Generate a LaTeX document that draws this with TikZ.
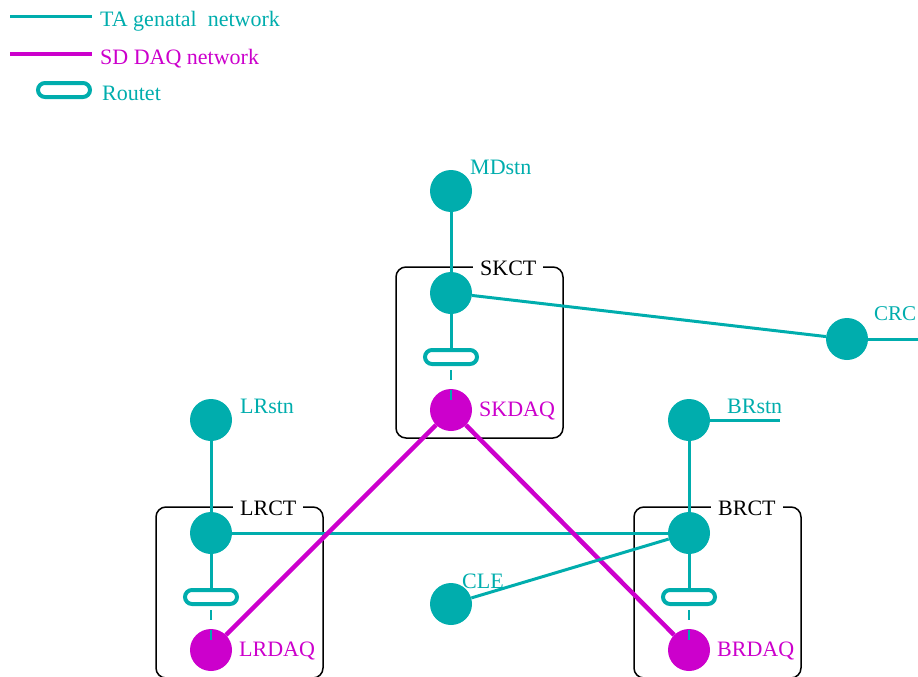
\documentclass[tikz,border=0pt]{standalone}
\usepackage{fontspec}
\setmainfont{Liberation Serif}
\usetikzlibrary{positioning}
\definecolor{tanet}{RGB}{0,173,173}
\definecolor{sdnet}{RGB}{204,0,204}

\tikzset{
  stn/.style={circle,fill=tanet,minimum size=42pt,inner sep=0pt},
  daq/.style={circle,fill=sdnet,minimum size=42pt,inner sep=0pt},
  router/.style={draw=tanet,line width=4pt,rounded corners=7pt,minimum width=52pt,minimum height=14pt,inner sep=0pt},
  lbl/.style={anchor=base west,inner sep=0pt,font=\fontsize{22}{26}\selectfont},
  talink/.style={draw=tanet,line width=3pt},
  sdlink/.style={draw=sdnet,line width=4.5pt},
  ctbox/.style={draw=black,line width=1.5pt,rounded corners=10pt},
}

\begin{document}
\begin{tikzpicture}[x=1pt,y=-1pt]
\useasboundingbox (0,0) rectangle (918,677);
\clip (0,0) rectangle (918,677);

% key
\coordinate (ta0) at (10,17);
\coordinate (ta1) at (92,17);
\coordinate (sd0) at (10,54);
\coordinate (sd1) at (92,54);
\draw[talink] (ta0) -- (ta1);
\draw[sdlink] (sd0) -- (sd1);
\node[lbl,text=tanet] (keyta) at (100,27) {TA genatal\ \ network};
\node[lbl,text=sdnet] (keysd) at (100,64) {SD DAQ network};
\node[router] (keyr) at (64,90) {};
\node[lbl,text=tanet] (keyrt) at (102,100) {Routet};

% comm towers: box, tower node, router, DAQ
\foreach \nm/\x/\y in {SK/451/293, LR/211/533, BR/689/533} {
  \draw[ctbox] ({\x-55},{\y-26}) rectangle ({\x+112},{\y+145});
  \node[lbl,fill=white,inner xsep=7pt] (\nm lbl) at ({\x+22},{\y-18}) {\nm CT};
  \node[stn] (\nm ct) at (\x,\y) {};
  \node[router] (\nm r) at (\x,{\y+64}) {};
  \node[daq] (\nm daq) at (\x,{\y+117}) {};
  \node[lbl,text=sdnet] (\nm dlbl) at ({\x+28},{\y+123}) {\nm DAQ};
}

% stations
\node[stn] (MDs) at (451,191) {};
\node[lbl,text=tanet] (MDlbl) at (470,174) {MDstn};
\node[stn] (LRs) at (211,420) {};
\node[lbl,text=tanet] (LRslbl) at (240,413) {LRstn};
\node[stn] (BRs) at (689,420) {};
\node[lbl,text=tanet] (BRslbl) at (727,413) {BRstn};
\node[stn] (CRC) at (847,339) {};
\node[lbl,text=tanet,font=\fontsize{21}{26}\selectfont] (CRClbl) at (874,320) {CRC};
\node[stn] (CLE) at (451,604) {};
\node[lbl,text=tanet] (CLElbl) at (462,588) {CLE};

\coordinate (crcend) at (918,339);
\coordinate (brsend) at (780,420);

% TA general network
\draw[talink] (MDs) -- (SKct);
\draw[talink] (LRs) -- (LRct);
\draw[talink] (BRs) -- (BRct);
\draw[talink] (BRs) -- (brsend);
\draw[talink] (SKct) -- (CRC);
\draw[talink] (CRC) -- (crcend);
\draw[talink] (LRct) -- (BRct);
\foreach \nm in {SK,LR,BR} {
  \draw[talink] (\nm ct) -- (\nm r);
  \draw[tanet,line width=2pt,dash pattern=on 10pt off 10pt,dash phase=16pt] (\nm r) -- (\nm daq.center);
}

% SD DAQ network
\draw[sdlink] (SKdaq) -- (LRdaq);
\draw[sdlink] (SKdaq) -- (BRdaq);

\draw[talink] (CLE) -- (BRct);

\end{tikzpicture}
\end{document}
